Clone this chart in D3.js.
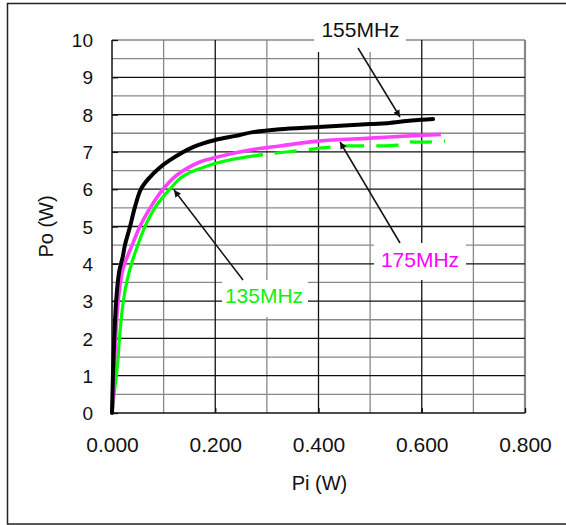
<!DOCTYPE html>
<html><head><meta charset="utf-8">
<script src="https://cdn.jsdelivr.net/npm/d3@7"></script>
<style>html,body{margin:0;padding:0;background:#fff;}svg{display:block;font-family:"Liberation Sans",Arial,sans-serif;}</style>
</head><body>
<svg id="c" width="566" height="525"></svg>
<script>
// ---- data ----
const xTicks = [0, 0.2, 0.4, 0.6, 0.8];
const xMinor = [0.1, 0.3, 0.5, 0.7];
const yTicks = [0,1,2,3,4,5,6,7,8,9,10];
const yMinor = [0.5,1.5,2.5,3.5,4.5,5.5,6.5,7.5,8.5,9.5];
const xTitle = "Pi (W)";
const yTitle = "Po (W)";
// 155 MHz (black)
const pi155 = [0,0.003,0.008,0.014,0.021,0.025,0.035,0.044,0.056,0.07,0.09,0.112,0.157,0.2,0.24,0.273,0.325,0.4,0.5,0.533,0.58,0.622];
const po155 = [0,1.5,3.0,3.8,4.2,4.5,5.0,5.5,6.0,6.27,6.55,6.78,7.13,7.32,7.43,7.53,7.61,7.67,7.75,7.77,7.84,7.88];
// 175 MHz (magenta)
const pi175 = [0,0.002,0.006,0.012,0.02,0.027,0.039,0.054,0.074,0.099,0.126,0.17,0.203,0.267,0.325,0.4,0.5,0.603,0.637];
const po175 = [0,0.4,1.7,3.0,3.8,4.1,4.5,5.0,5.5,6.0,6.38,6.73,6.86,7.05,7.16,7.29,7.37,7.45,7.47];
// 135 MHz (green)
const pi135 = [0,0.004,0.01,0.015,0.022,0.03,0.04,0.05,0.064,0.083,0.112,0.138,0.203,0.25,0.306,0.374,0.403,0.457,0.494,0.552,0.571,0.6,0.645];
const po135 = [0,0.5,1.2,2.1,3.0,3.6,4.1,4.5,5.0,5.5,6.0,6.35,6.7,6.84,6.95,7.05,7.1,7.16,7.16,7.18,7.26,7.26,7.29];
const dash135From = 0.25;
const labels = ["155MHz","175MHz","135MHz"];

// ---- layout ----
const svg = d3.select("#c");
const L = 112, R = 525, T = 40, B = 413;
const x = d3.scaleLinear().domain([0,0.8]).range([L,R]);
const y = d3.scaleLinear().domain([0,10]).range([B,T]);

// outer frame
svg.append("path").attr("d","M600,3.5 H7.5 V524 H600")
  .attr("fill","none").attr("stroke","#222").attr("stroke-width",1.5);

const g = svg.append("g");
// minor gridlines (gray)
g.selectAll(".hm").data(yMinor.concat([10])).join("line")
  .attr("x1",L).attr("x2",R).attr("y1",d=>y(d)).attr("y2",d=>y(d))
  .attr("stroke","#888").attr("stroke-width",1.3);
g.selectAll(".vm").data(xMinor).join("line")
  .attr("y1",T).attr("y2",B).attr("x1",d=>x(d)).attr("x2",d=>x(d))
  .attr("stroke","#888").attr("stroke-width",1.3);
g.append("line").attr("x1",x(0.8)).attr("x2",x(0.8)).attr("y1",T).attr("y2",B)
  .attr("stroke","#888").attr("stroke-width",2.2);
// major gridlines (black)
g.selectAll(".hM").data(yTicks.filter(d=>d>0&&d<10)).join("line")
  .attr("x1",L).attr("x2",R).attr("y1",d=>y(d)).attr("y2",d=>y(d))
  .attr("stroke","#111").attr("stroke-width",1.3);
g.selectAll(".vM").data(xTicks.filter(d=>d>0&&d<0.8)).join("line")
  .attr("y1",T).attr("y2",B).attr("x1",d=>x(d)).attr("x2",d=>x(d))
  .attr("stroke","#111").attr("stroke-width",1.3);

// axes
const xa = svg.append("g").attr("transform",`translate(0,${B})`)
  .call(d3.axisBottom(x).tickValues(xTicks).tickSize(-5).tickPadding(18).tickFormat(d3.format(".3f")));
const ya = svg.append("g").attr("transform",`translate(${L},0)`)
  .call(d3.axisLeft(y).tickValues(yTicks).tickSize(-6).tickPadding(19).tickFormat(d3.format("d")));
[xa,ya].forEach(a=>{a.select(".domain").attr("stroke","#111").attr("stroke-width",1.5);
  a.selectAll(".tick line").attr("stroke","#111").attr("stroke-width",1.3);
  a.selectAll("text").attr("fill","#111").attr("font-family","Liberation Sans, Arial, sans-serif");});
xa.selectAll("text").attr("font-size",21).attr("dy","0.71em").attr("y",24);
ya.selectAll("text").attr("font-size",19).attr("dy","0.35em");
ya.select(".domain").attr("d",`M0,${B}V${T}`);
xa.select(".domain").attr("d",`M${L},0H${R}`);

// titles
svg.append("text").attr("x",(L+R)/2+1).attr("y",490).attr("text-anchor","middle")
  .attr("font-size",20).attr("fill","#111").text(xTitle);
svg.append("text").attr("transform",`translate(53,${(T+B)/2}) rotate(-90)`).attr("text-anchor","middle")
  .attr("font-size",20).attr("fill","#111").text(yTitle);

// series
const line = d3.line().x(d=>x(d[0])).y(d=>y(d[1])).curve(d3.curveCatmullRom.alpha(0.5));
const s155 = pi155.map((v,i)=>[v,po155[i]]);
const s175 = pi175.map((v,i)=>[v,po175[i]]);
const s135 = pi135.map((v,i)=>[v,po135[i]]);
const plot = svg.append("g");
plot.append("path").attr("d",line(s135.filter(d=>d[0]<=dash135From)))
  .attr("fill","none").attr("stroke","#00ff00").attr("stroke-width",3.2);
plot.append("path").attr("d",line(s135.filter(d=>d[0]>=dash135From)))
  .attr("fill","none").attr("stroke","#00ff00").attr("stroke-width",3.2).attr("stroke-dasharray","22,12");
plot.append("path").attr("d",line(s175))
  .attr("fill","none").attr("stroke","#ff40ff").attr("stroke-width",3.6);
plot.append("path").attr("d",line(s155))
  .attr("fill","none").attr("stroke","#000").attr("stroke-width",4).attr("stroke-linecap","round");

// annotation boxes + arrows
const ann = [
  {t:labels[0], c:"#111", box:[314,14,406,52], tx:360.5, ty:37, a:[358,48,400,117]},
  {t:labels[1], c:"#ff00ff", box:[374,243,466,280], tx:420, ty:267, a:[400,243,340,142]},
  {t:labels[2], c:"#11ee11", box:[222,280,308,317], tx:264, ty:303, a:[243,280,174,190]}
];
const defs = svg.append("defs");
defs.append("marker").attr("id","ah").attr("viewBox","0 0 10 10").attr("refX",10).attr("refY",5)
  .attr("markerWidth",7).attr("markerHeight",7).attr("markerUnits","userSpaceOnUse").attr("orient","auto")
  .append("path").attr("d","M0,0 L10,5 L0,10 z").attr("fill","#111");
ann.forEach(o=>{
  svg.append("rect").attr("x",o.box[0]).attr("y",o.box[1]).attr("width",o.box[2]-o.box[0]).attr("height",o.box[3]-o.box[1]).attr("fill","#fff");
  svg.append("text").attr("x",o.tx).attr("y",o.ty).attr("text-anchor","middle").attr("font-size",21)
    .attr("fill",o.c).text(o.t);
  svg.append("line").attr("x1",o.a[0]).attr("y1",o.a[1]).attr("x2",o.a[2]).attr("y2",o.a[3])
    .attr("stroke","#111").attr("stroke-width",1.5).attr("marker-end","url(#ah)");
});
</script>
</body></html>
